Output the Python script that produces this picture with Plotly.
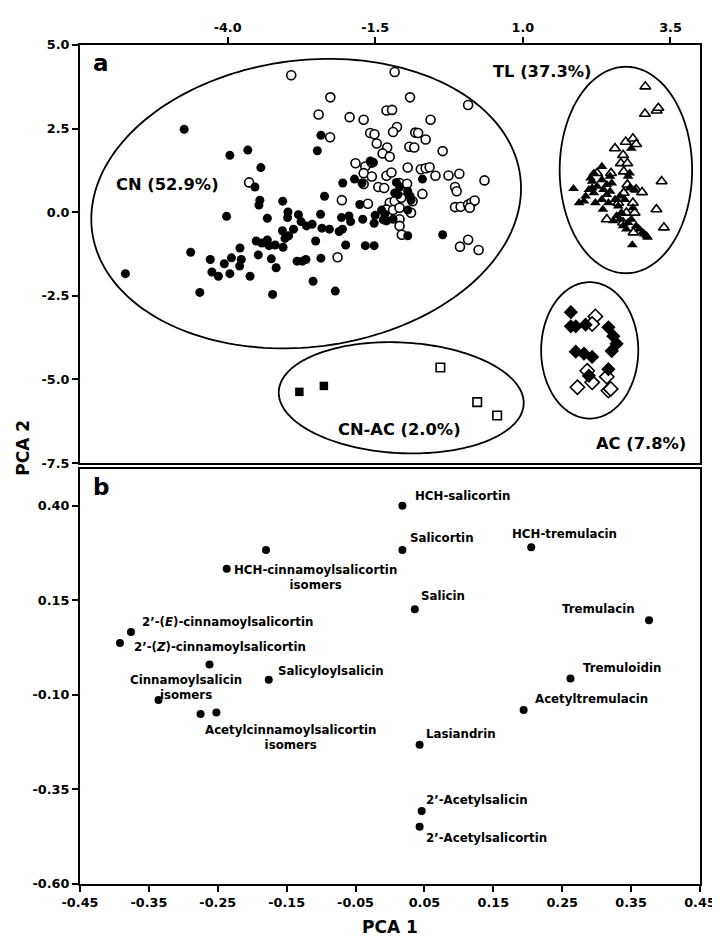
import numpy as np
import plotly.graph_objects as go

# ---------------- Panel a: PCA scores ----------------
cn_filled_x = [-4.736, -3.962, -3.658, -3.437, -3.537, -3.454, -3.470, -3.067, -4.018, -3.327,
               -2.978, -2.984, -2.801, -2.757, -2.663, -2.569, -2.884, -3.072, -2.967, -3.028,
               -3.515, -3.421, -3.327, -3.299, -3.194, -3.061, -3.791, -3.935, -3.769, -3.797,
               -4.294, -4.056, -4.266, -4.156, -3.962, -3.620, -3.481, -3.260, -3.178, -2.824,
               -2.735, -2.674, -2.420, -2.509, -2.426, -2.403, -2.276, -2.111, -2.055, -2.072,
               -1.945, -1.917, -2.000, -1.668, -1.519, -1.712, -1.519, -1.502, -1.762, -2.359,
               -2.050, -1.851, -1.724, -1.585, -2.420, -2.481, -4.626, -5.731, -4.471, -3.238,
               -2.553, -2.177,
               -1.530, -1.143, -1.088, -1.171, -1.116, -0.950, -0.911, -0.894, -0.701, -1.392,
               -1.337, -1.364, -1.309, -1.198, -0.950, -0.950, -0.358]
cn_filled_y = [2.478, 1.700, 1.857, 1.335, 0.754, 0.360, 0.212, 0.330, -0.123, -0.182,
               0.005, -0.162, -0.074, -0.281, -0.409, -0.359, -0.507, -0.556, -0.704, -0.783,
               -0.862, -0.921, -0.832, -1.000, -0.980, -1.049, -1.069, -1.364, -1.414, -1.611,
               -1.414, -1.542, -1.788, -1.916, -1.837, -1.916, -1.276, -1.394, -1.660, -1.463,
               -1.463, -1.414, -1.374, -0.862, -0.064, -0.478, -0.507, -0.576, -0.507, -0.162,
               -0.113, -0.281, -0.980, -1.000, -1.000, -0.212, -0.330, -0.094, 0.232, 0.478,
               0.872, 0.990, 0.872, 1.532, 2.301, 1.838, -1.197, -1.837, -2.399, -2.458,
               -2.064, -2.359,
               1.483, 0.892, 0.754, 0.577, 0.527, 0.626, 0.478, 0.360, 0.990, 0.064,
               -0.064, -0.231, -0.261, -0.211, 0.064, -0.704, -0.675]

cn_open_x = [-2.923, -2.260, -2.459, -2.265, -3.636,
             -1.171, -0.911, 0.073, -1.309, -1.215, -1.934, -1.696, -0.563, -1.132, -1.198,
             -1.585, -1.513, -0.822, -0.773, -0.646, -1.475, -1.298, -0.922, -0.839, -1.375,
             -0.358, -1.254, -1.834, -1.668, -1.558, -0.950, -0.728, -0.646, -0.579, -0.480,
             -0.259, -0.076, 0.350, -1.696, -1.558, -1.309, -1.226, -1.696, -1.447, -1.348,
             -1.088, -0.961, -0.148, -0.121, -0.701, -2.066, -1.624, -1.254, -1.171, -1.060,
             -0.867, -0.148, -0.054, 0.073, 0.129, 0.184, 0.101, -1.309, -1.198, -1.088,
             -0.894, -1.088, -1.088, -1.050, 0.073, -0.065, 0.250, -2.138]
cn_open_y = [4.094, 3.434, 2.921, 2.242, 0.892,
             4.192, 3.434, 3.207, 3.040, 3.059, 2.843, 2.764, 2.764, 2.547, 2.399,
             2.370, 2.330, 2.380, 2.370, 2.173, 2.054, 1.936, 1.956, 1.936, 1.759,
             1.828, 1.660, 1.463, 1.365, 1.483, 1.335, 1.286, 1.315, 1.345, 1.089,
             1.099, 1.148, 0.951, 1.168, 1.069, 1.089, 1.188, 0.843, 0.754, 0.724,
             0.872, 0.853, 0.754, 0.626, 0.547, 0.360, 0.251, 0.281, 0.330, 0.429,
             0.330, 0.153, 0.163, 0.232, 0.281, 0.350, 0.133, 0.084, 0.064, 0.133,
             -0.014, -0.211, -0.409, -0.675, -0.823, -1.030, -1.128, -1.345]

tl_open_x = [3.074, 3.068, 3.267, 3.295, 2.560, 2.742, 2.864, 2.919, 2.698, 2.659,
             2.770, 2.256, 2.493, 2.709, 2.770, 2.919, 3.019, 2.709, 3.350, 3.262,
             3.389, 2.422, 2.615, 2.864, 2.753, 2.892, 2.875, 2.698]
tl_open_y = [3.759, 2.941, 3.040, 3.118, 1.907, 2.104, 2.202, 2.035, 1.710, 1.463,
             1.463, 1.168, 1.168, 1.217, 0.823, 0.675, 0.596, 0.577, 0.921, 0.084,
             -0.458, -0.212, 0.281, 0.281, -0.015, -0.015, -0.606, -0.310]

tl_filled_x = [1.858, 1.952, 2.035, 2.063, 2.118, 2.173, 2.201, 2.228, 2.256, 2.339,
               2.339, 2.366, 2.339, 2.355, 2.422, 2.422, 2.449, 2.477, 2.477, 2.505,
               2.173, 2.145, 2.643, 2.615, 2.588, 2.643, 2.670, 2.698, 2.753, 2.781,
               2.809, 2.781, 2.836, 2.864, 2.836, 2.892, 2.919, 2.974, 3.030, 3.057,
               3.096, 3.113, 2.853, 2.726, 2.809, 2.532, 2.560, 2.201]
tl_filled_y = [0.705, 0.281, 0.330, 0.478, 0.675, 0.921, 0.576, 0.281, 0.774, 1.365,
               0.970, 0.675, 0.380, 0.084, 0.823, 0.527, 0.281, 1.069, 0.626, 0.872,
               0.724, 1.020, 0.478, 0.182, -0.113, -0.212, -0.015, -0.409, -0.507, -0.310,
               1.168, 1.069, 1.907, 0.133, -0.212, 0.675, -0.409, -0.507, -0.606, -0.655,
               -0.704, -0.754, -0.980, 0.380, 0.724, -0.261, 0.380, 1.168]

ac_filled_x = [1.813, 1.813, 1.896, 2.062, 2.449, 2.532, 2.587, 2.505, 1.896, 2.035, 2.173, 2.449, 2.118]
ac_filled_y = [-2.989, -3.412, -3.412, -3.363, -3.442, -3.708, -3.934, -4.151, -4.171, -4.230, -4.329, -4.693, -4.890]
ac_open_x = [2.228, 2.173, 2.090, 2.173, 1.924, 2.422, 2.449, 2.488]
ac_open_y = [-3.117, -3.343, -4.742, -5.087, -5.235, -4.920, -5.333, -5.284]

cnac_filled_x = [-2.785, -2.370]
cnac_filled_y = [-5.372, -5.195]
cnac_open_x = [-0.397, 0.227, 0.565]
cnac_open_y = [-4.644, -5.679, -6.080]

# cluster ellipses: name, centre x, centre y, semi-axis x (px), semi-axis y (px), tilt (deg)
ellipse_names = ["CN", "TL", "AC", "CN-AC"]
ellipse_cx = [-2.67, 2.745, 2.132, -1.06]
ellipse_cy = [0.257, 1.262, -4.131, -5.55]
ellipse_rx = [220, 67.5, 49.5, 125]
ellipse_ry = [145, 104.5, 69, 56]
ellipse_tilt = [7.2, 0, 0, -3]

cluster_labels = ["CN (52.9%)", "TL (37.3%)", "CN-AC (2.0%)", "AC (7.8%)"]
cluster_label_x = [-5.016, 1.327, -1.094, 3.00]
cluster_label_y = [0.833, 4.20, -6.50, -6.92]

xa_ticks = [-4.0, -1.5, 1.0, 3.5]
ya_ticks = [5.0, 2.5, 0.0, -2.5, -5.0, -7.5]

# ---------------- Panel b: loadings ----------------
load_x = [0.018, 0.018, 0.205, -0.180, -0.237, 0.036, 0.376, -0.376, -0.392, -0.262,
          -0.336, -0.176, 0.262, 0.194, -0.275, -0.252, 0.043, 0.046, 0.043]
load_y = [0.400, 0.283, 0.290, 0.283, 0.233, 0.126, 0.097, 0.066, 0.037, -0.020,
          -0.114, -0.060, -0.057, -0.140, -0.151, -0.147, -0.232, -0.407, -0.449]

label_text = ["HCH-salicortin", "Salicortin", "HCH-tremulacin", "HCH-cinnamoylsalicortin<br>isomers",
              "Salicin", "Tremulacin", "2’-(<i>E</i>)-cinnamoylsalicortin", "2’-(<i>Z</i>)-cinnamoylsalicortin",
              "Cinnamoylsalicin<br>isomers", "Salicyloylsalicin", "Tremuloidin", "Acetyltremulacin",
              "Acetylcinnamoylsalicortin<br>isomers", "Lasiandrin", "2’-Acetylsalicin", "2’-Acetylsalicortin"]
label_x = [0.0334, 0.026, 0.174, -0.108, 0.042, 0.358, -0.363, -0.375, -0.296, -0.166,
           0.277, 0.208, -0.143, 0.050, 0.050, 0.050]
label_y = [0.426, 0.314, 0.324, 0.209, 0.160, 0.128, 0.092, 0.027, -0.080, -0.036,
           -0.028, -0.112, -0.214, -0.203, -0.378, -0.478]
label_anchor = ["left", "left", "left", "center", "left", "right", "left", "left", "center", "left",
                "left", "left", "center", "left", "left", "left"]

xb_ticks = [-0.45, -0.35, -0.25, -0.15, -0.05, 0.05, 0.15, 0.25, 0.35, 0.45]
yb_ticks = [0.40, 0.15, -0.10, -0.35, -0.60]

# ---------------- Layout geometry ----------------
W, H = 720, 940
ML, MR, MT, MB = 72, 16, 27, 64
xa_range = [-6.5, 4.0]
ya_range = [-7.5, 5.0]
xb_range = [-0.45, 0.45]
yb_range = [-0.60, 0.497]
plot_w = W - ML - MR
plot_h = H - MT - MB
a_h = 423
b_h = 420
dom_a = [1 - a_h / plot_h, 1]
dom_b = [0, b_h / plot_h]
px_per_x = plot_w / (xa_range[1] - xa_range[0])
px_per_y = a_h / (ya_range[1] - ya_range[0])

FONT = "DejaVu Sans, Liberation Sans, Arial, sans-serif"
BLACK = "#000000"

fig = go.Figure()

def add_pts(x, y, symbol, size, filled, xa="x", ya="y", lw=1.6):
    fig.add_trace(go.Scatter(
        x=x, y=y, mode="markers", xaxis=xa, yaxis=ya, showlegend=False, hoverinfo="skip",
        marker=dict(symbol=symbol, size=size,
                    color=BLACK if filled else "white",
                    line=dict(color=BLACK, width=0 if filled else lw))))

add_pts(cn_open_x, cn_open_y, "circle", 9, False)
add_pts(cn_filled_x, cn_filled_y, "circle", 9, True)
add_pts(tl_open_x, tl_open_y, "triangle-up", 9.5, False)
add_pts(tl_filled_x, tl_filled_y, "triangle-up", 9.5, True)
add_pts(ac_open_x, ac_open_y, "diamond", 11, False)
add_pts(ac_filled_x, ac_filled_y, "diamond", 11, True)
add_pts(cnac_open_x, cnac_open_y, "square", 8.5, False)
add_pts(cnac_filled_x, cnac_filled_y, "square", 8.5, True)

add_pts(load_x, load_y, "circle", 8, True, xa="x2", ya="y2")

shapes = []
t = np.linspace(0, 2 * np.pi, 181)
for cx, cy, rx, ry, tilt in zip(ellipse_cx, ellipse_cy, ellipse_rx, ellipse_ry, ellipse_tilt):
    th = np.deg2rad(tilt)
    ex = rx * np.cos(t)
    ey = ry * np.sin(t)
    dx = ex * np.cos(th) - ey * np.sin(th)
    dy = ex * np.sin(th) + ey * np.cos(th)
    xs = cx + dx / px_per_x
    ys = cy + dy / px_per_y
    path = "M " + " L ".join(f"{a:.4f},{b:.4f}" for a, b in zip(xs, ys)) + " Z"
    shapes.append(dict(type="path", path=path, xref="x", yref="y",
                       line=dict(color=BLACK, width=1.8), fillcolor="rgba(0,0,0,0)", layer="below"))

annotations = []
for txt, x, y in zip(cluster_labels, cluster_label_x, cluster_label_y):
    annotations.append(dict(text=txt, x=x, y=y, xref="x", yref="y", showarrow=False,
                            xanchor="center", yanchor="middle",
                            font=dict(family=FONT, size=16.3, color=BLACK, weight="bold")))
for txt, x, y, anc in zip(label_text, label_x, label_y, label_anchor):
    annotations.append(dict(text=txt, x=x, y=y, xref="x2", yref="y2", showarrow=False,
                            xanchor=anc, yanchor="middle", align="center",
                            font=dict(family=FONT, size=11.8, color=BLACK, weight="bold")))
# panel letters
annotations.append(dict(text="a", x=0.018, y=dom_a[1] - 0.004, xref="paper", yref="paper",
                        showarrow=False, xanchor="left", yanchor="top",
                        font=dict(family=FONT, size=23, color=BLACK, weight="bold")))
annotations.append(dict(text="b", x=0.018, y=dom_b[1] - 0.004, xref="paper", yref="paper",
                        showarrow=False, xanchor="left", yanchor="top",
                        font=dict(family=FONT, size=23, color=BLACK, weight="bold")))
# axis titles
annotations.append(dict(text="PCA 2", x=(14.5 - ML) / plot_w, y=(H - MB - 435) / plot_h,
                        xref="paper", yref="paper", showarrow=False, textangle=-90,
                        xanchor="center", yanchor="middle",
                        font=dict(family=FONT, size=17, color=BLACK, weight="bold")))
annotations.append(dict(text="PCA 1", x=0.5, y=(H - MB - 920) / plot_h,
                        xref="paper", yref="paper", showarrow=False,
                        xanchor="center", yanchor="middle",
                        font=dict(family=FONT, size=17, color=BLACK, weight="bold")))

tickfont = dict(family=FONT, size=12.8, color=BLACK, weight="bold")
common = dict(showgrid=False, zeroline=False, showline=True, linecolor=BLACK, linewidth=2,
              mirror=True, ticks="outside", ticklen=6, tickwidth=2, tickcolor=BLACK,
              tickfont=tickfont)

fig.update_layout(
    width=W, height=H,
    margin=dict(l=ML, r=MR, t=MT, b=MB),
    paper_bgcolor="white", plot_bgcolor="white",
    showlegend=False,
    shapes=shapes, annotations=annotations,
    xaxis=dict(domain=[0, 1], range=xa_range, anchor="y", side="top",
               tickvals=xa_ticks, ticktext=[f"{v:.1f}" for v in xa_ticks], **common),
    yaxis=dict(domain=dom_a, range=ya_range, anchor="x",
               tickvals=ya_ticks, ticktext=[f"{v:.1f}" for v in ya_ticks], **common),
    xaxis2=dict(domain=[0, 1], range=xb_range, anchor="y2",
                tickvals=xb_ticks, ticktext=[f"{v:.2f}" for v in xb_ticks], **common),
    yaxis2=dict(domain=dom_b, range=yb_range, anchor="x2",
                tickvals=yb_ticks, ticktext=[f"{v:.2f}" for v in yb_ticks], **common),
)

fig.write_html("out.html")
